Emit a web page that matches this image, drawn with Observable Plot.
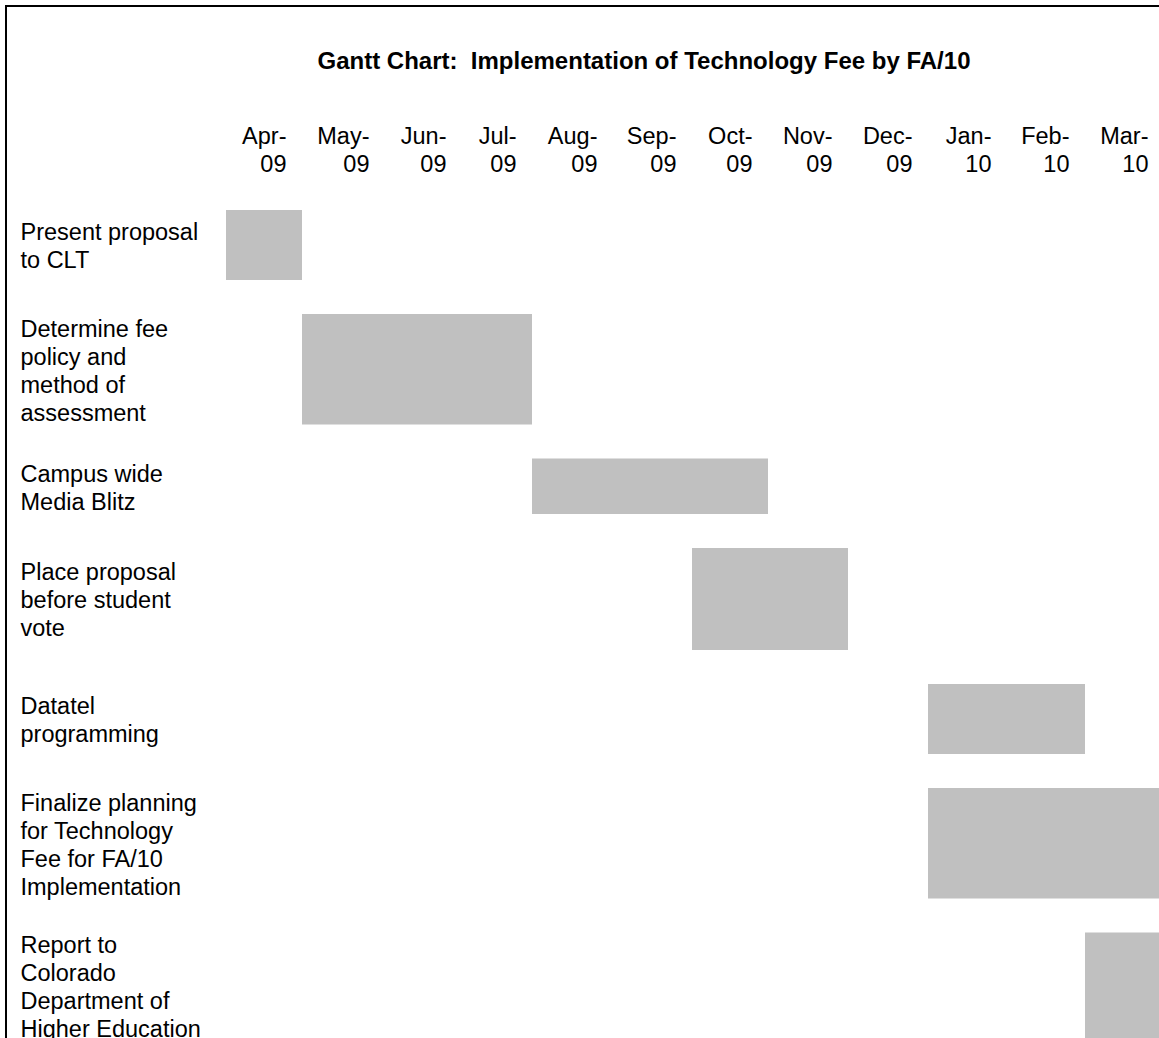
<!DOCTYPE html>
<html>
<head>
<meta charset="utf-8">
<script src="https://cdn.jsdelivr.net/npm/d3@7"></script>
<script src="https://cdn.jsdelivr.net/npm/@observablehq/plot@0.6"></script>
<style>
  html, body { margin: 0; padding: 0; background: #fff; overflow: hidden; }
  body { width: 1159px; height: 1038px; position: relative; font-family: Arial, "Liberation Sans", sans-serif; }
  #frame { position: absolute; left: 5px; top: 5px; width: 3000px; height: 3000px;
           border-left: 2px solid #000; border-top: 2px solid #000; pointer-events: none; z-index: 2; }
  #title { height: 100px; box-sizing: border-box; padding-top: 49px; width: 1288px;
           text-align: center; font: bold 24px/24px Arial, "Liberation Sans", sans-serif; color: #000; white-space: pre; }
</style>
</head>
<body>
<div id="frame"></div>
<div id="title">Gantt Chart:  Implementation of Technology Fee by FA/10</div>
<div id="chart"></div>
<script>
// Month columns (tick labels)
const monthLabels = ["Apr-09","May-09","Jun-09","Jul-09","Aug-09","Sep-09","Oct-09","Nov-09","Dec-09","Jan-10","Feb-10","Mar-10"];

// Tasks
const taskNames = [
  "Present proposal\nto CLT",
  "Determine fee\npolicy and\nmethod of\nassessment",
  "Campus wide\nMedia Blitz",
  "Place proposal\nbefore student\nvote",
  "Datatel\nprogramming",
  "Finalize planning\nfor Technology\nFee for FA/10\nImplementation",
  "Report to\nColorado\nDepartment of\nHigher Education"
];
const taskStart = ["2009-04","2009-05","2009-08","2009-10","2010-01","2010-01","2010-03"];
const taskEnd   = ["2009-04","2009-07","2009-10","2009-11","2010-02","2010-03","2010-03"]; // last month, inclusive

const parseMonth = d3.utcParse("%Y-%m");
const tasks = taskNames.map((name, i) => ({
  name,
  row: i,
  start: parseMonth(taskStart[i]),
  end: d3.utcMonth.offset(parseMonth(taskEnd[i]), 1)
}));

const firstMonth = parseMonth("2009-04");
const monthBounds = d3.range(monthLabels.length + 1).map(k => d3.utcMonth.offset(firstMonth, k));
const months = monthLabels.map((label, k) => ({label, end: monthBounds[k + 1]}));

// Table column edges (the table's columns are not equal in width)
const columnEdges = [226, 302, 385, 462, 532, 613, 692, 768, 848, 928, 1007, 1085, 1164];
// Table row boundaries (SVG coordinates)
const rowEdges = [93, 197, 341.5, 431, 567, 671, 815.5, 955];

const fs = 23.5;
const chart = Plot.plot({
  width: 1159,
  height: 938,
  marginTop: 24,
  marginLeft: 20,
  marginRight: 0,
  marginBottom: 0,
  style: {background: "transparent", fontFamily: "Arial, 'Liberation Sans', sans-serif", fontSize: fs + "px", color: "#000"},
  x: {type: "utc", domain: monthBounds, range: columnEdges, axis: null},
  y: {type: "linear", domain: d3.range(taskNames.length + 1), range: rowEdges, axis: null},
  marks: [
    Plot.rect(tasks, {
      x1: "start", x2: "end",
      y1: "row", y2: d => d.row + 1,
      insetTop: 17, insetBottom: 17,
      fill: "#c0c0c0"
    }),
    Plot.text(months, {
      x: "end",
      text: d => d.label.replace("-", "-\n"),
      frameAnchor: "top",
      lineAnchor: "top",
      textAnchor: "end",
      dx: -16,
      lineHeight: 1.19,
      fontSize: fs
    }),
    Plot.text(tasks, {
      y: d => d.row + 0.5,
      text: "name",
      frameAnchor: "left",
      textAnchor: "start",
      lineAnchor: "middle",
      lineHeight: 1.19,
      fontSize: fs
    })
  ]
});
document.getElementById("chart").appendChild(chart);
</script>
</body>
</html>
